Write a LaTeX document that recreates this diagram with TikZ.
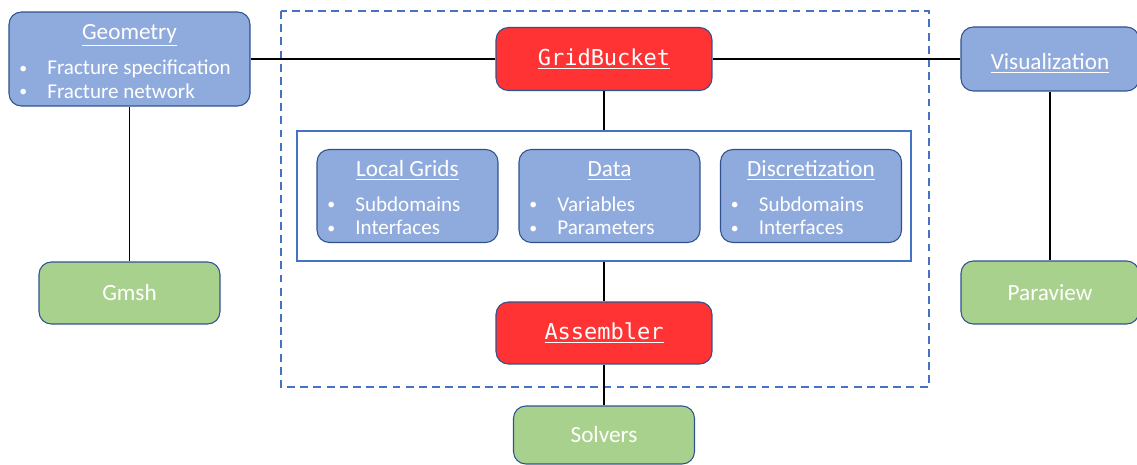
\documentclass[tikz,border=0pt]{standalone}
\usepackage{fontspec}
\setmainfont{Carlito}
\setmonofont{DejaVu Sans Mono}
\usetikzlibrary{positioning}

\definecolor{boxblue}{HTML}{8FAADC}
\definecolor{edgeblue}{HTML}{2F528F}
\definecolor{boxred}{HTML}{FF3333}
\definecolor{boxgreen}{HTML}{A9D18E}
\definecolor{frameblue}{HTML}{4472C4}

\newcommand{\bul}{\makebox[0.56cm][l]{\raisebox{0.15ex}{\scalebox{0.75}{•}}}}

\begin{document}
\begin{tikzpicture}[x=0.02cm, y=-0.02cm,
	box/.style={draw=edgeblue, line width=0.6pt, rounded corners=7pt, text=white, inner sep=0pt},
	bluebox/.style={box, fill=boxblue, minimum width=3.62cm, minimum height=1.86cm},
	redbox/.style={box, fill=boxred, minimum width=4.32cm, minimum height=1.26cm, font=\ttfamily\fontsize{12.5}{15}\selectfont},
	greenbox/.style={box, fill=boxgreen, minimum width=3.62cm, minimum height=1.24cm, font=\fontsize{13.2}{16}\selectfont},
	title/.style={text=white, inner sep=0pt, anchor=base, font=\fontsize{13.2}{16}\selectfont},
	items/.style={text=white, inner sep=0pt, anchor=base west, align=left, font=\fontsize{12}{13.6}\selectfont},
	link/.style={line width=1.1pt}]
\useasboundingbox (0,0) rectangle (1137,465);
\clip (0,0) rectangle (1137,465);

% pipeline frame
\draw[frameblue, line width=1.1pt, dash pattern=on 4.5pt off 3pt] (281,11) rectangle (929,387);

% left column
\node[bluebox, minimum width=4.82cm, minimum height=1.88cm] (geo) at (129.5,59) {};
\node[title] (geo-t) at ([yshift=-0.56cm]geo.north) {\underline{Geometry}};
\node[items] (geo-l) at ([xshift=0.21cm,yshift=-1.74cm]geo.north west) {\bul Fracture specification\\\bul Fracture network};
\node[greenbox] (gmsh) at (129.5,293) {Gmsh};

% middle column
\node[redbox] (grid) at (604,59) {\underline{GridBucket}};
\node[draw=frameblue, line width=0.8pt, minimum width=12.28cm, minimum height=2.6cm, inner sep=0pt] (inner) at (604,196) {};

\node[bluebox] (local) at (407.5,196) {};
\node[title] (local-t) at ([yshift=-0.55cm]local.north) {\underline{Local Grids}};
\node[items] (local-l) at ([xshift=0.21cm,yshift=-1.72cm]local.north west) {\bul Subdomains\\\bul Interfaces};

\node[bluebox] (data) at (609.5,196) {};
\node[title] (data-t) at ([yshift=-0.55cm]data.north) {\underline{Data}};
\node[items] (data-l) at ([xshift=0.21cm,yshift=-1.72cm]data.north west) {\bul Variables\\\bul Parameters};

\node[bluebox] (disc) at (811,196) {};
\node[title] (disc-t) at ([yshift=-0.55cm]disc.north) {\underline{Discretization}};
\node[items] (disc-l) at ([xshift=0.21cm,yshift=-1.72cm]disc.north west) {\bul Subdomains\\\bul Interfaces};

\node[redbox, minimum height=1.24cm] (asm) at (604,333) {\underline{Assembler}};
\node[greenbox, minimum height=1.16cm] (solv) at (604,435) {Solvers};

% right column
\node[bluebox, minimum width=3.56cm, minimum height=1.28cm] (vis) at (1050,59) {};
\node[title] (vis-t) at ([yshift=-0.22cm]vis.center) {\underline{Visualization}};
\node[greenbox, minimum width=3.56cm, minimum height=1.26cm] (para) at (1050,292.5) {Paraview};

% connectors
\draw[link] (geo.east) -- (grid.west);
\draw[link] (grid.east) -- (vis.west);
\draw[link] (grid.south) -- (inner.north);
\draw[link] (inner.south) -- (asm.north);
\draw[link] (asm.south) -- (solv.north);
\draw[link] (geo.south) -- (gmsh.north);
\draw[link] (vis.south) -- (para.north);
\end{tikzpicture}
\end{document}
